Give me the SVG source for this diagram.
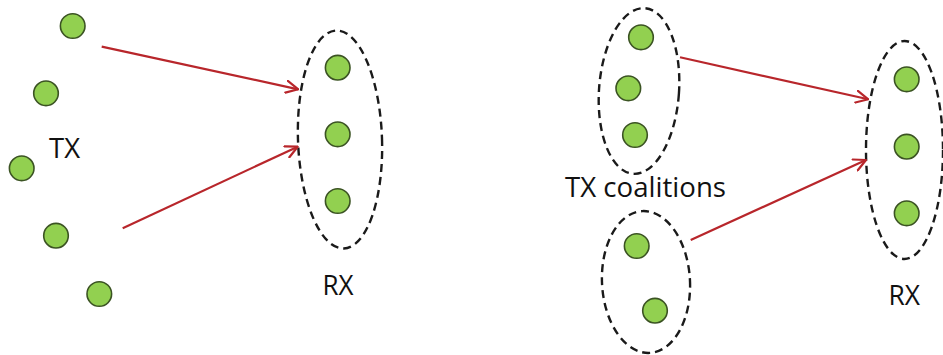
<svg xmlns="http://www.w3.org/2000/svg" width="943" height="355" viewBox="0 0 943 355">
<style>
.node{fill:#92D050;stroke:#3B5323;stroke-width:1.6}
.grp{fill:none;stroke:#1a1a1a;stroke-width:2.4;stroke-dasharray:8 5}
.arr{fill:none;stroke:#B8262B;stroke-width:2.2;marker-end:url(#ah)}
.lbl{font-family:"Open Sans","Liberation Sans",sans-serif;font-size:27px;fill:#111}
</style>
<defs>
<marker id="ah" viewBox="0 0 14 14" refX="13" refY="7" markerWidth="14" markerHeight="14" markerUnits="userSpaceOnUse" orient="auto">
<path d="M1,1 L13,7 L1,13" fill="none" stroke="#B8262B" stroke-width="2.2" stroke-linecap="round" stroke-linejoin="round"/>
</marker>
</defs>
<rect width="943" height="355" fill="#fff"/>
<g id="tx-left">
<circle class="node" cx="72.7" cy="26" r="12.3"/>
<circle class="node" cx="46" cy="93.3" r="12.3"/>
<circle class="node" cx="21.7" cy="168.3" r="12.3"/>
<circle class="node" cx="56" cy="235.7" r="12.3"/>
<circle class="node" cx="99.3" cy="294" r="12.3"/>
<text class="lbl" x="49" y="157.5" textLength="31" lengthAdjust="spacingAndGlyphs">TX</text>
</g>
<g id="rx-left">
<ellipse class="grp" cx="340" cy="139.5" rx="42" ry="109" transform="rotate(-2 340 139.5)"/>
<circle class="node" cx="337.7" cy="67.7" r="12.3"/>
<circle class="node" cx="337.7" cy="134.3" r="12.3"/>
<circle class="node" cx="337.7" cy="201" r="12.3"/>
<text class="lbl" x="322.5" y="295" textLength="31" lengthAdjust="spacingAndGlyphs">RX</text>
</g>
<g id="coalition-top">
<ellipse class="grp" cx="639" cy="91" rx="40" ry="83" transform="rotate(4 639 91)"/>
<circle class="node" cx="641" cy="37.3" r="12.3"/>
<circle class="node" cx="628.3" cy="88.3" r="12.3"/>
<circle class="node" cx="635" cy="135" r="12.3"/>
</g>
<g id="coalition-bottom">
<ellipse class="grp" cx="646" cy="282" rx="44" ry="71" transform="rotate(-3 646 282)"/>
<circle class="node" cx="636.7" cy="246" r="12.3"/>
<circle class="node" cx="655" cy="310.7" r="12.3"/>
</g>
<g id="tx-coalitions-label">
<text class="lbl" x="565" y="196.7" textLength="161" lengthAdjust="spacingAndGlyphs">TX coalitions</text>
</g>
<g id="rx-right">
<ellipse class="grp" cx="904.5" cy="150" rx="38.5" ry="109"/>
<circle class="node" cx="906.7" cy="79.3" r="12.3"/>
<circle class="node" cx="906.7" cy="146.7" r="12.3"/>
<circle class="node" cx="906.7" cy="213.3" r="12.3"/>
<text class="lbl" x="888.5" y="305" textLength="31.5" lengthAdjust="spacingAndGlyphs">RX</text>
</g>
<g id="connectors">
<line class="arr" x1="101.7" y1="46.7" x2="298.3" y2="89.3"/>
<line class="arr" x1="122.7" y1="228.3" x2="297.7" y2="146.7"/>
<line class="arr" x1="680" y1="57.3" x2="868.3" y2="99.3"/>
<line class="arr" x1="690.7" y1="240" x2="866" y2="160"/>
</g>
</svg>
